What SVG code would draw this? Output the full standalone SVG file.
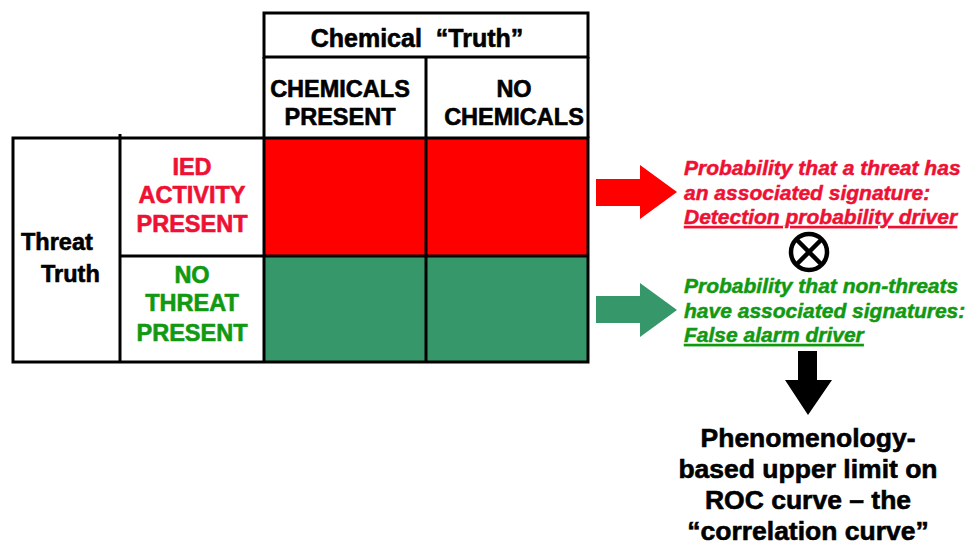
<svg xmlns="http://www.w3.org/2000/svg" width="974" height="554" viewBox="0 0 974 554">
<style>
.t{font-family:"Liberation Sans",Arial,sans-serif;font-weight:bold;stroke-width:0.6px}
.blk{fill:#000;stroke:#000}
.red{fill:#EE1133;stroke:#EE1133}
.grn{fill:#119911;stroke:#119911}
.rt{font-family:"Liberation Sans",Arial,sans-serif;font-weight:bold;font-style:italic;font-size:21px;stroke-width:0.5px}
.ln{stroke:#000;stroke-width:3;fill:none}
</style>
<rect width="974" height="554" fill="#fff"/>
<g id="table">
  <rect x="265" y="139" width="323" height="117" fill="#FF0000"/>
  <rect x="265" y="256" width="323" height="106" fill="#36986A"/>
  <rect x="264" y="13" width="324" height="44" class="ln"/>
  <line x1="264" y1="57" x2="264" y2="138" class="ln"/>
  <line x1="588" y1="57" x2="588" y2="138" class="ln"/>
  <line x1="426" y1="57" x2="426" y2="362" class="ln"/>
  <rect x="13" y="138" width="575" height="224" class="ln"/>
  <line x1="264" y1="138" x2="264" y2="362" class="ln"/>
  <line x1="120" y1="134" x2="120" y2="361" class="ln"/>
  <line x1="120" y1="256" x2="588" y2="256" class="ln"/>
</g>
<g id="col-header">
  <text class="t blk" x="417" y="47" font-size="25" text-anchor="middle" xml:space="preserve">Chemical  “Truth”</text>
</g>
<g id="col-chem">
  <text class="t blk" x="340" y="97" font-size="23.5" text-anchor="middle">CHEMICALS</text>
  <text class="t blk" x="340" y="125" font-size="23.5" text-anchor="middle">PRESENT</text>
</g>
<g id="col-nochem">
  <text class="t blk" x="514" y="97" font-size="23.5" text-anchor="middle">NO</text>
  <text class="t blk" x="514" y="125" font-size="23.5" text-anchor="middle">CHEMICALS</text>
</g>
<g id="row-header">
  <text class="t blk" x="21" y="250" font-size="23.5">Threat</text>
  <text class="t blk" x="41" y="282" font-size="23.5">Truth</text>
</g>
<g id="row-ied">
  <text class="t red" x="192" y="175" font-size="23.5" text-anchor="middle">IED</text>
  <text class="t red" x="192" y="203" font-size="23.5" text-anchor="middle">ACTIVITY</text>
  <text class="t red" x="192" y="232" font-size="23.5" text-anchor="middle">PRESENT</text>
</g>
<g id="row-nothreat">
  <text class="t grn" x="192" y="283" font-size="23.5" text-anchor="middle">NO</text>
  <text class="t grn" x="192" y="311" font-size="23.5" text-anchor="middle">THREAT</text>
  <text class="t grn" x="192" y="341" font-size="23.5" text-anchor="middle">PRESENT</text>
</g>
<g id="connectors">
  <polygon points="596,179 640,179 640,165 677,192 640,219 640,206 596,206" fill="#FF0000"/>
  <polygon points="596,296 640,296 640,283 677,310 640,337 640,323 596,323" fill="#36986A"/>
  <polygon points="798,351 817,351 817,380 832,380 808,415 785,380 798,380" fill="#000"/>
</g>
<g id="detection-text">
  <text class="rt red" x="684" y="175">Probability that a threat has</text>
  <text class="rt red" x="684" y="200">an associated signature:</text>
  <text class="rt red" x="684" y="224" text-decoration="underline">Detection probability driver</text>
</g>
<g id="otimes">
  <circle cx="809" cy="252" r="18" fill="#fff" stroke="#000" stroke-width="4.5"/>
  <line x1="796" y1="239" x2="822" y2="265" stroke="#000" stroke-width="4.5"/>
  <line x1="822" y1="239" x2="796" y2="265" stroke="#000" stroke-width="4.5"/>
</g>
<g id="falsealarm-text">
  <text class="rt grn" x="684" y="293">Probability that non-threats</text>
  <text class="rt grn" x="684" y="318">have associated signatures:</text>
  <text class="rt grn" x="684" y="342" text-decoration="underline">False alarm driver</text>
</g>
<g id="result">
  <text class="t blk" x="808" y="447" font-size="26.5" text-anchor="middle">Phenomenology-</text>
  <text class="t blk" x="808" y="478" font-size="26.5" text-anchor="middle">based upper limit on</text>
  <text class="t blk" x="808" y="509" font-size="26.5" text-anchor="middle">ROC curve – the</text>
  <text class="t blk" x="808" y="540" font-size="26.5" text-anchor="middle">“correlation curve”</text>
</g>
</svg>
